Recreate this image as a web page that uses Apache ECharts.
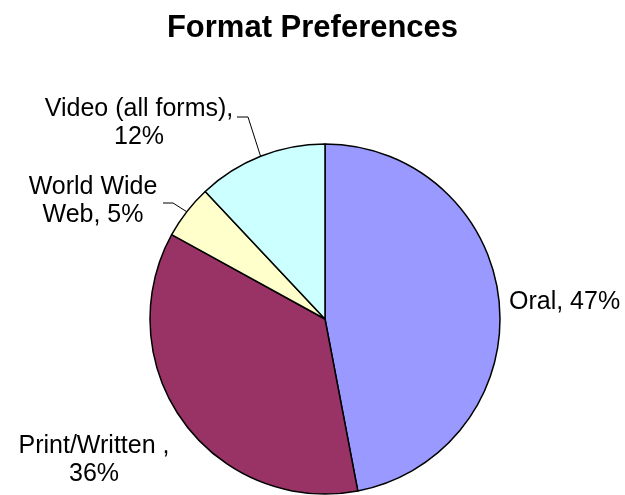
<!DOCTYPE html>
<html>
<head>
<meta charset="utf-8">
<style>
  html, body { margin: 0; padding: 0; background: #fff; }
  #chart { width: 625px; height: 495px; }
</style>
<script src="https://cdn.jsdelivr.net/npm/echarts@6/dist/echarts.min.js"></script>
</head>
<body>
<div id="chart"></div>
<script>
// Survey shares by preferred format (percent)
const categories = ['Oral', 'Print/Written ', 'World Wide\nWeb', 'Video (all forms)'];
const shares = [47, 36, 5, 12];
// whether the percentage goes on its own line under the name
const wrapPercent = [false, true, false, true];

const sliceColors = ['#9999FF', '#993366', '#FFFFCC', '#CCFFFF'];

// label anchors: [x, y, align, showLeader]
const labelAnchors = [
  [509, 302, 'left', false],
  [94, 460, 'center', false],
  [93, 201, 'center', true],
  [139, 123, 'center', true]
];
// leader line elbow and tail next to the labels
const leaderEnds = [
  null,
  null,
  [[173, 203], [163, 203]],
  [[248, 117], [237, 117]]
];

const font = '"Liberation Sans", Arial, sans-serif';

const chart = echarts.init(document.getElementById('chart'), null, { renderer: 'canvas' });

chart.setOption({
  animation: false,
  backgroundColor: '#ffffff',
  title: {
    text: 'Format Preferences',
    left: 'center',
    top: 13,
    padding: 0,
    textStyle: { fontFamily: font, fontSize: 31, fontWeight: 'bold', color: '#000' }
  },
  series: [{
    type: 'pie',
    center: [325, 319],
    radius: [0, 175],
    startAngle: 90,
    clockwise: true,
    avoidLabelOverlap: false,
    itemStyle: { borderColor: '#000', borderWidth: 1.5 },
    emphasis: { disabled: true },
    data: categories.map((name, i) => ({
      name: name,
      value: shares[i],
      itemStyle: { color: sliceColors[i] },
      labelLine: { show: labelAnchors[i][3] }
    })),
    label: {
      show: true,
      position: 'outside',
      fontFamily: font,
      fontSize: 25,
      lineHeight: 28,
      color: '#000',
      formatter: p => p.name + ',' + (wrapPercent[p.dataIndex] ? '\n' : ' ') + p.value + '%'
    },
    labelLine: {
      show: true,
      lineStyle: { color: '#000', width: 1 }
    },
    labelLayout: params => {
      const a = labelAnchors[params.dataIndex];
      const out = { x: a[0], y: a[1], align: a[2], verticalAlign: 'middle' };
      const ends = leaderEnds[params.dataIndex];
      if (ends && params.labelLinePoints) {
        out.labelLinePoints = [params.labelLinePoints[0], ends[0], ends[1]];
      }
      return out;
    }
  }]
});
</script>
</body>
</html>
